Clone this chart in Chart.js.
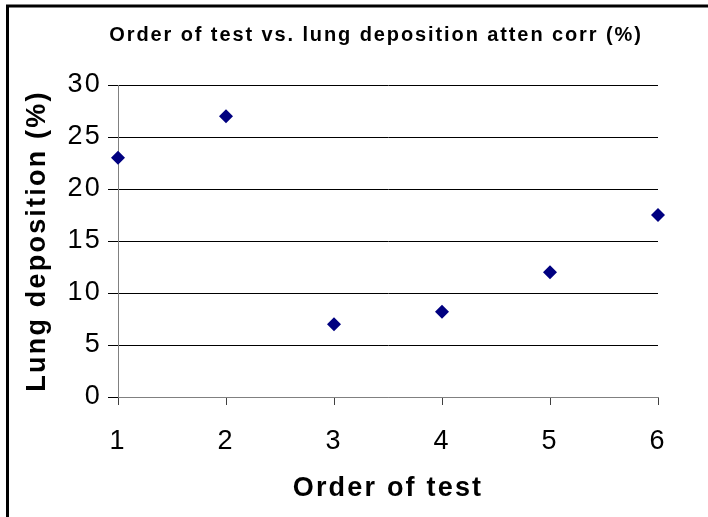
<!DOCTYPE html>
<html>
<head>
<meta charset="utf-8">
<script src="https://cdn.jsdelivr.net/npm/chart.js@4.4.1/dist/chart.umd.min.js"></script>
<style>
  body { margin: 0; background: #fff; }
  #wrap { width: 708px; height: 517px; position: relative; }
</style>
</head>
<body>
<div id="wrap"><canvas id="chart"></canvas></div>
<script>
// order of the test and the deposition measured (atten corr)
const testOrder = [1, 2, 3, 4, 5, 6];
const deposition = [23, 27, 7, 8.2, 12, 17.5];
const xTickValues = [1, 2, 3, 4, 5, 6];
const yTickValues = [0, 5, 10, 15, 20, 25, 30];
const chartTitle = 'Order of test vs. lung deposition atten corr (%)';

const FONT = '"Liberation Sans", Arial, sans-serif';

// outer frame like the excel chart area, spills off right/bottom
// + wider letter spacing the original text has
const frame = {
    id: 'frame',
    beforeDraw(chart) {
        const c = chart.ctx;
        c.save();
        c.strokeStyle = '#000';
        c.lineWidth = 3;
        c.strokeRect(7.5, 6, 800, 600);
        c.restore();
        c.letterSpacing = '2.2px';
    },
    afterDraw(chart) {
        const c = chart.ctx;
        c.save();
        c.letterSpacing = '1.9px';
        c.font = 'bold 20px ' + FONT;
        c.fillStyle = '#000';
        c.textAlign = 'center';
        c.textBaseline = 'middle';
        c.fillText(chartTitle, 376, 35);
        c.restore();
    }
};

const points = testOrder.map((x, i) => ({ x: x, y: deposition[i] }));

new Chart(document.getElementById('chart'), {
    type: 'scatter',
    data: {
        datasets: [{
            data: points,
            pointStyle: 'rectRot',
            pointRadius: 7,
            pointHoverRadius: 7,
            backgroundColor: '#000080',
            borderColor: '#000080',
            borderWidth: 0,
            clip: false
        }]
    },
    options: {
        responsive: true,
        maintainAspectRatio: false,
        animation: false,
        layout: { padding: { left: 0, right: 50, top: 85, bottom: 0 } },
        plugins: {
            legend: { display: false },
            tooltip: { enabled: false },
            title: { display: false }
        },
        scales: {
            x: {
                type: 'linear',
                min: 1,
                max: 6,
                afterFit: s => { s.height = 120; },
                afterBuildTicks: s => { s.ticks = xTickValues.map(v => ({ value: v })); },
                grid: { drawOnChartArea: false, drawTicks: true, tickLength: 8, tickColor: '#404040' },
                border: { color: '#808080', width: 1 },
                ticks: { color: '#000', padding: 20, font: { family: FONT, size: 27 } },
                title: {
                    display: true,
                    text: 'Order of test',
                    color: '#000',
                    font: { family: FONT, size: 27, weight: 'bold', lineHeight: 1 },
                    padding: { top: 0, bottom: 15 }
                }
            },
            y: {
                min: 0,
                max: 30,
                afterFit: s => { s.width = 118; },
                afterBuildTicks: s => { s.ticks = yTickValues.map(v => ({ value: v })); },
                grid: {
                    color: ctx => ctx.tick && ctx.tick.value === 0 ? '#808080' : '#000',
                    tickColor: '#000',
                    tickLength: 10
                },
                border: { color: '#808080', width: 1 },
                ticks: { color: '#000', padding: 6, font: { family: FONT, size: 27 } },
                title: {
                    display: true,
                    text: 'Lung deposition (%)',
                    color: '#000',
                    font: { family: FONT, size: 27, weight: 'bold', lineHeight: 1 },
                    padding: { top: 24, bottom: 0 }
                }
            }
        }
    },
    plugins: [frame]
});
</script>
</body>
</html>
